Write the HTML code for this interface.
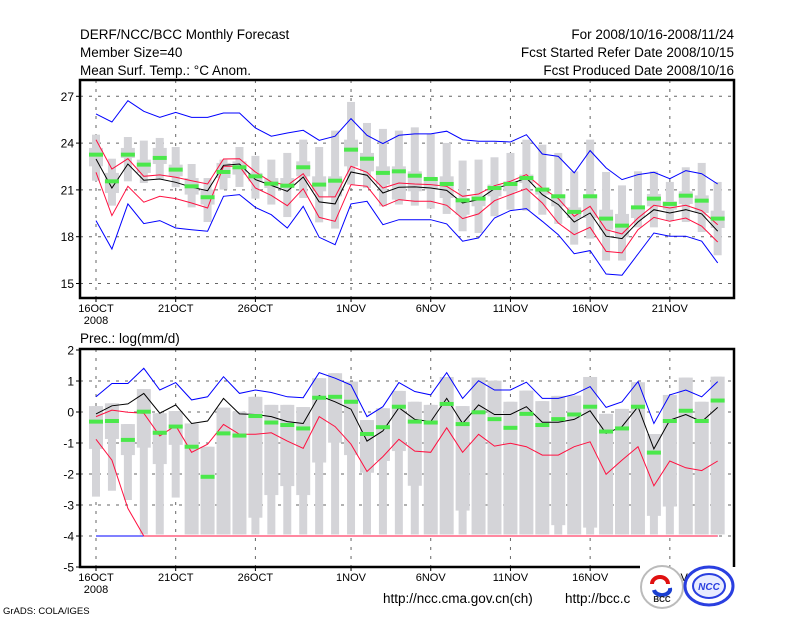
<!DOCTYPE html>
<html><head><meta charset="utf-8"><style>
html,body{margin:0;padding:0;background:#fff;}
svg{display:block;font-family:"Liberation Sans","DejaVu Sans",sans-serif;}
</style></head><body>
<svg id="chart" width="800" height="618" viewBox="0 0 800 618">
<g font-size="13.5" fill="#000">
<text x="80" y="39">DERF/NCC/BCC Monthly Forecast</text>
<text x="80" y="57">Member Size=40</text>
<text x="80" y="75">Mean Surf. Temp.: °C Anom.</text>
<text x="734" y="39" text-anchor="end">For 2008/10/16-2008/11/24</text>
<text x="734" y="57" text-anchor="end">Fcst Started Refer Date 2008/10/15</text>
<text x="734" y="75" text-anchor="end">Fcst Produced Date 2008/10/16</text>
<text x="80" y="343">Prec.: log(mm/d)</text>
</g>
<g id="top"></g>
<g id="bot"></g>
<g>
<text x="383" y="603" font-size="13.5">http://ncc.cma.gov.cn(ch)</text>
<text x="565" y="603" font-size="13.5">http://bcc.c</text>
<text x="3" y="614" font-size="9.5">GrADS: COLA/IGES</text>
<g>
<circle cx="662" cy="587" r="21" fill="#fff" stroke="#bbb" stroke-width="2"/>
<path d="M652 584 a8 7 0 1 1 16 0" fill="none" stroke="#e01010" stroke-width="4"/>
<path d="M654 590 a8 6 0 0 0 16 -2" fill="none" stroke="#1a3fd0" stroke-width="4"/>
<text x="662" y="602" font-size="8" font-weight="bold" fill="#222" text-anchor="middle">BCC</text>
</g>
<g>
<ellipse cx="709" cy="586" rx="24" ry="19" fill="#fff" stroke="#2a3fe0" stroke-width="3"/>
<ellipse cx="709" cy="586" rx="16" ry="12" fill="#e8ecff" stroke="#2a3fe0" stroke-width="2"/>
<text x="709" y="590" font-size="10" font-weight="bold" font-style="italic" fill="#2a3fe0" text-anchor="middle">NCC</text>
</g>
</g>
</svg>
<script>
// ---------- Temperature data (°C) ----------
const tDays = ["16OCT","21OCT","26OCT","1NOV","6NOV","11NOV","16NOV","21NOV"];
const tTickDays = [0,5,10,16,21,26,31,36];
const tYTicks = [15,18,21,24,27];
const tBlueHi = [25.87,25.35,26.72,26.04,25.65,25.97,25.65,25.65,25.93,25.93,24.97,24.44,24.65,24.82,24.18,24.44,25.57,24.5,23.97,24.5,24.59,24.59,24.76,24.22,24.12,24.12,24.07,24.54,23.30,23.15,22.09,23.52,22.41,21.66,21.98,22.13,21.72,22.24,22.04,21.38];
const tBlueLo = [19.03,17.21,20.10,18.84,19.03,18.56,18.45,18.35,20.59,20.70,19.88,19.41,18.56,19.95,17.96,17.49,20.10,20.27,18.77,19.09,19.09,19.09,18.82,17.71,17.92,19.20,19.67,19.80,18.99,18.13,16.91,17.11,15.61,15.53,16.89,18.24,18.03,18.03,17.71,16.32];
const tRedHi = [24.22,22.34,23.0,21.87,21.96,21.81,21.59,21.38,22.98,23.0,22.15,21.51,21.29,22.04,20.55,20.55,22.51,22.13,21.12,21.44,21.38,21.34,21.23,20.59,20.74,21.27,21.55,21.98,21.12,20.44,19.31,19.95,18.45,18.18,19.20,20.01,19.84,20.01,19.67,18.77];
const tRedLo = [22.13,19.35,21.23,20.21,20.59,20.44,20.16,19.84,22.51,22.51,21.12,20.65,19.99,21.08,19.24,18.99,21.34,21.23,19.95,20.38,20.27,20.27,20.01,19.16,19.46,20.31,20.70,21.08,20.16,18.88,18.13,18.60,17.06,16.96,18.45,19.24,18.99,19.20,18.67,17.66];
const tMean = [22.98,21.12,22.66,21.62,21.70,21.49,21.17,20.95,22.58,22.66,21.66,21.29,20.91,21.83,20.23,20.10,22.15,21.94,20.80,21.17,21.19,21.12,20.97,20.16,20.38,21.08,21.38,21.76,20.70,20.06,18.94,19.52,18.03,17.88,18.94,19.73,19.52,19.73,19.46,18.35];
const tObs = [23.26,21.55,23.26,22.62,23.05,22.30,21.23,20.53,22.15,22.45,21.87,21.40,21.27,22.45,21.34,21.59,23.58,23.0,22.09,22.19,21.91,21.70,21.38,20.33,20.44,21.12,21.38,21.76,21.02,20.59,19.59,20.59,19.16,18.71,19.88,20.44,20.10,20.63,20.31,19.16];
const tMax = [24.54,23.0,24.39,24.16,24.33,23.75,22.66,21.76,22.94,23.75,23.18,22.94,23.37,24.22,23.75,24.80,26.64,25.29,24.91,24.80,25.01,24.59,24.01,22.88,22.94,23.09,23.37,24.22,23.90,23.37,22.19,24.22,22.15,21.29,22.19,22.19,21.51,22.45,22.73,21.51];
const tMin = [21.59,19.99,21.55,21.44,21.66,21.17,19.88,18.94,21.02,21.19,20.44,20.06,19.26,20.48,18.92,18.52,21.34,21.12,19.95,20.06,19.99,19.80,19.46,18.35,18.24,19.31,19.73,19.67,19.41,18.82,17.49,17.88,16.47,16.47,18.60,18.60,19.03,18.94,18.30,16.81];
const tQ3 = [23.69,22.09,23.69,22.94,23.69,22.62,21.76,21.02,22.73,22.83,22.09,21.76,21.76,22.83,21.87,21.87,24.22,23.37,22.51,22.51,22.19,21.76,21.87,20.48,20.59,21.34,21.55,21.98,21.12,20.70,19.88,20.70,19.73,19.46,19.95,20.74,20.27,20.91,20.65,19.67];
const tQ1 = [22.51,20.80,23.05,22.09,22.66,21.87,20.70,20.06,21.76,21.98,21.55,21.12,21.12,21.87,20.91,20.59,22.51,22.19,21.34,20.38,20.91,21.02,20.48,19.41,19.95,20.59,20.91,21.44,20.70,19.95,19.20,19.20,18.45,17.96,19.20,19.95,19.73,20.10,19.52,18.56];

// ---------- Precipitation data (log mm/d) ----------
const pYTicks = [-5,-4,-3,-2,-1,0,1,2];
const pBlueHi = [0.49,0.92,0.92,1.41,0.71,0.95,0.39,0.49,1.14,0.60,0.71,0.63,0.49,0.46,1.27,1.09,0.87,-0.15,0.17,0.95,0.66,0.55,1.27,0.44,1.01,0.71,0.71,0.96,0.44,0.44,0.57,0.82,0.15,0.33,0.98,-0.37,0.55,0.71,0.49,0.98];
const pBlueLo = [-4,-4,-4,-4,-4,-4,-4,-4,-4,-4,-4,-4,-4,-4,-4,-4,-4,-4,-4,-4,-4,-4,-4,-4,-4,-4,-4,-4,-4,-4,-4,-4,-4,-4,-4,-4,-4,-4,-4,-4];
const pRedHi = [-0.15,0.06,-0.01,-0.04,-0.77,-0.44,-1.30,-1.04,-0.40,-0.72,-0.72,-0.67,-0.94,-1.17,-0.15,-0.47,-1.04,-1.92,-1.44,-0.88,-1.26,-1.30,-0.51,-1.30,-0.72,-1.10,-1.01,-1.12,-1.39,-1.39,-1.12,-0.96,-2.01,-1.55,-1.12,-2.38,-1.58,-1.80,-1.89,-1.58];
const pRedLo = [-0.88,-1.55,-3.11,-4,-4,-4,-4,-4,-4,-4,-4,-4,-4,-4,-4,-4,-4,-4,-4,-4,-4,-4,-4,-4,-4,-4,-4,-4,-4,-4,-4,-4,-4,-4,-4,-4,-4,-4,-4,-4];
const pMean = [-0.06,0.20,0.26,0.60,-0.04,0.23,-0.37,-0.29,0.44,-0.06,-0.08,-0.15,-0.31,-0.37,0.53,0.33,0.09,-0.94,-0.61,0.14,-0.24,-0.31,0.44,-0.37,0.23,-0.08,-0.08,0.17,-0.33,-0.33,-0.24,0.04,-0.69,-0.47,0.17,-1.19,-0.26,-0.08,-0.31,0.15];
const pObs = [-0.31,-0.29,-0.90,0.01,-0.67,-0.47,-1.12,-2.09,-0.69,-0.76,-0.13,-0.34,-0.42,-0.53,0.46,0.49,0.33,-0.71,-0.49,0.17,-0.31,-0.34,0.26,-0.39,-0.01,-0.23,-0.51,-0.06,-0.42,-0.23,-0.08,0.17,-0.63,-0.53,0.17,-1.31,-0.29,0.04,-0.29,0.37];
const pMax = [0.19,0.28,-0.39,0.74,-0.04,0.03,-0.37,-1.12,0.14,0.01,0.49,0.23,0.23,0.16,1.09,1.25,0.98,-0.26,0.12,0.68,0.33,0.23,1.13,0.19,1.11,1.01,0.33,0.69,0.35,0.52,0.53,1.13,-0.06,0.10,0.96,-0.71,0.55,1.11,0.33,1.14];
const pMin = [-2.73,-2.54,-2.84,-3.95,-3.95,-2.76,-3.95,-3.95,-3.95,-3.95,-3.95,-3.95,-3.95,-3.95,-3.95,-3.95,-3.95,-3.95,-3.95,-3.95,-3.95,-3.95,-3.95,-3.95,-3.95,-3.95,-3.95,-3.95,-3.95,-3.95,-3.95,-3.95,-3.95,-3.95,-3.95,-3.95,-3.95,-3.95,-3.95,-3.95];
const pQ1 = [-1.19,-0.87,-1.39,-1.15,-1.68,-1.06,-3.95,-3.95,-3.95,-3.95,-3.41,-2.68,-2.39,-2.68,-1.63,-0.99,-1.39,-1.96,-1.58,-1.26,-2.38,-3.95,-3.95,-3.18,-3.95,-3.95,-3.95,-3.95,-3.95,-3.65,-3.95,-3.73,-3.95,-3.95,-3.95,-3.35,-3.05,-3.95,-3.95,-3.95];

const NS='http://www.w3.org/2000/svg';
function mk(parent,tag,attrs){const e=document.createElementNS(NS,tag);for(const k in attrs)e.setAttribute(k,attrs[k]);parent.appendChild(e);return e;}
const xDay = d => 96 + d*15.94;

function panel(g, box, yScale, yTicks, gridTicks, spec){
  // grid
  gridTicks.forEach(v=>{
    const l=mk(g,'line',{x1:box.x0,x2:box.x1,y1:yScale(v),y2:yScale(v),stroke:'#666','stroke-width':1,'stroke-dasharray':'3,6'});
    
    
  });
  tTickDays.forEach(d=>{
    const l=mk(g,'line',{x1:xDay(d),x2:xDay(d),y1:box.y0,y2:box.y1,stroke:'#666','stroke-width':1,'stroke-dasharray':'3,6'});
    
    
  });
  // boxes
  for(let i=0;i<40;i++){
    const x=xDay(i);
    const w=mk(g,'rect',{x:x-4,y:yScale(spec.max[i]),width:8,height:Math.max(0,yScale(spec.min[i])-yScale(spec.max[i])),fill:'#d4d4d8'});
    
    
    const b=mk(g,'rect',{x:x-7,y:yScale(spec.q3[i]),width:14,height:Math.max(0,yScale(spec.q1[i])-yScale(spec.q3[i])),fill:'#d4d4d8'});
    
    
  }
  spec.lines.forEach(([arr,col,name])=>{
    const p=mk(g,'polyline',{points:arr.map((v,i)=>xDay(i).toFixed(1)+','+yScale(v).toFixed(1)).join(' '),fill:'none',stroke:col,'stroke-width':1});
    
    
  });
  spec.obs.forEach((v,i)=>{
    const r=mk(g,'rect',{x:xDay(i)-7,y:yScale(v)-2,width:14,height:4,fill:'#4be84b'});
    
    
  });
  // frame
  const f=mk(g,'path',{d:spec.frame,fill:'none',stroke:'#000','stroke-width':2.5});
  
  
  yTicks.forEach(v=>{
    const t=mk(g,'line',{x1:box.x0-4,x2:box.x0,y1:yScale(v),y2:yScale(v),stroke:'#000'});
    
    
    const tx=mk(g,'text',{x:box.x0-6,y:yScale(v)+4.5,'text-anchor':'end','font-size':12});
    tx.textContent=v;
    
    
  });
  tTickDays.forEach((d,k)=>{
    const t=mk(g,'line',{x1:xDay(d),x2:xDay(d),y1:box.y1,y2:box.y1+4,stroke:'#000'});
    
    
    const tx=mk(g,'text',{x:xDay(d),y:box.y1+14,'text-anchor':'middle','font-size':11});
    tx.textContent=tDays[k];
    
    
  });
  const yr=mk(g,'text',{x:xDay(0),y:box.y1+26,'text-anchor':'middle','font-size':11});
  yr.textContent='2008';
  
  
}

const tY = v => 96.3 + (27-v)*15.6;
const tBox={x0:80,x1:734,y0:80,y1:298};
panel(document.getElementById('top'), tBox, tY, tYTicks, tYTicks,
 {max:tMax,min:tMin,q3:tQ3,q1:tQ1,obs:tObs,
  lines:[[tBlueHi,'#0000ff','temp-upper-bound-line'],[tBlueLo,'#0000ff','temp-lower-bound-line'],[tRedHi,'#ff1040','temp-upper-spread-line'],[tRedLo,'#ff1040','temp-lower-spread-line'],[tMean,'#000','temp-ensemble-mean-line']],
  frame:'M80 80 H734 V298 H80 Z'});

const pY = v => 412 - v*31;
const pBox={x0:80,x1:734,y0:349,y1:567};
panel(document.getElementById('bot'), pBox, pY, pYTicks, [-4,-3,-2,-1,0,1],
 {max:pMax,min:pMin,q3:pMax,q1:pQ1,obs:pObs,
  lines:[[pBlueHi,'#0000ff','precip-upper-bound-line'],[pBlueLo,'#0000ff','precip-lower-bound-line'],[pRedHi,'#ff1040','precip-upper-spread-line'],[pRedLo,'#ff1040','precip-lower-spread-line'],[pMean,'#000','precip-ensemble-mean-line']],
  frame:'M640 567 H80 V349 H734 V567'});
</script>
</body></html>
